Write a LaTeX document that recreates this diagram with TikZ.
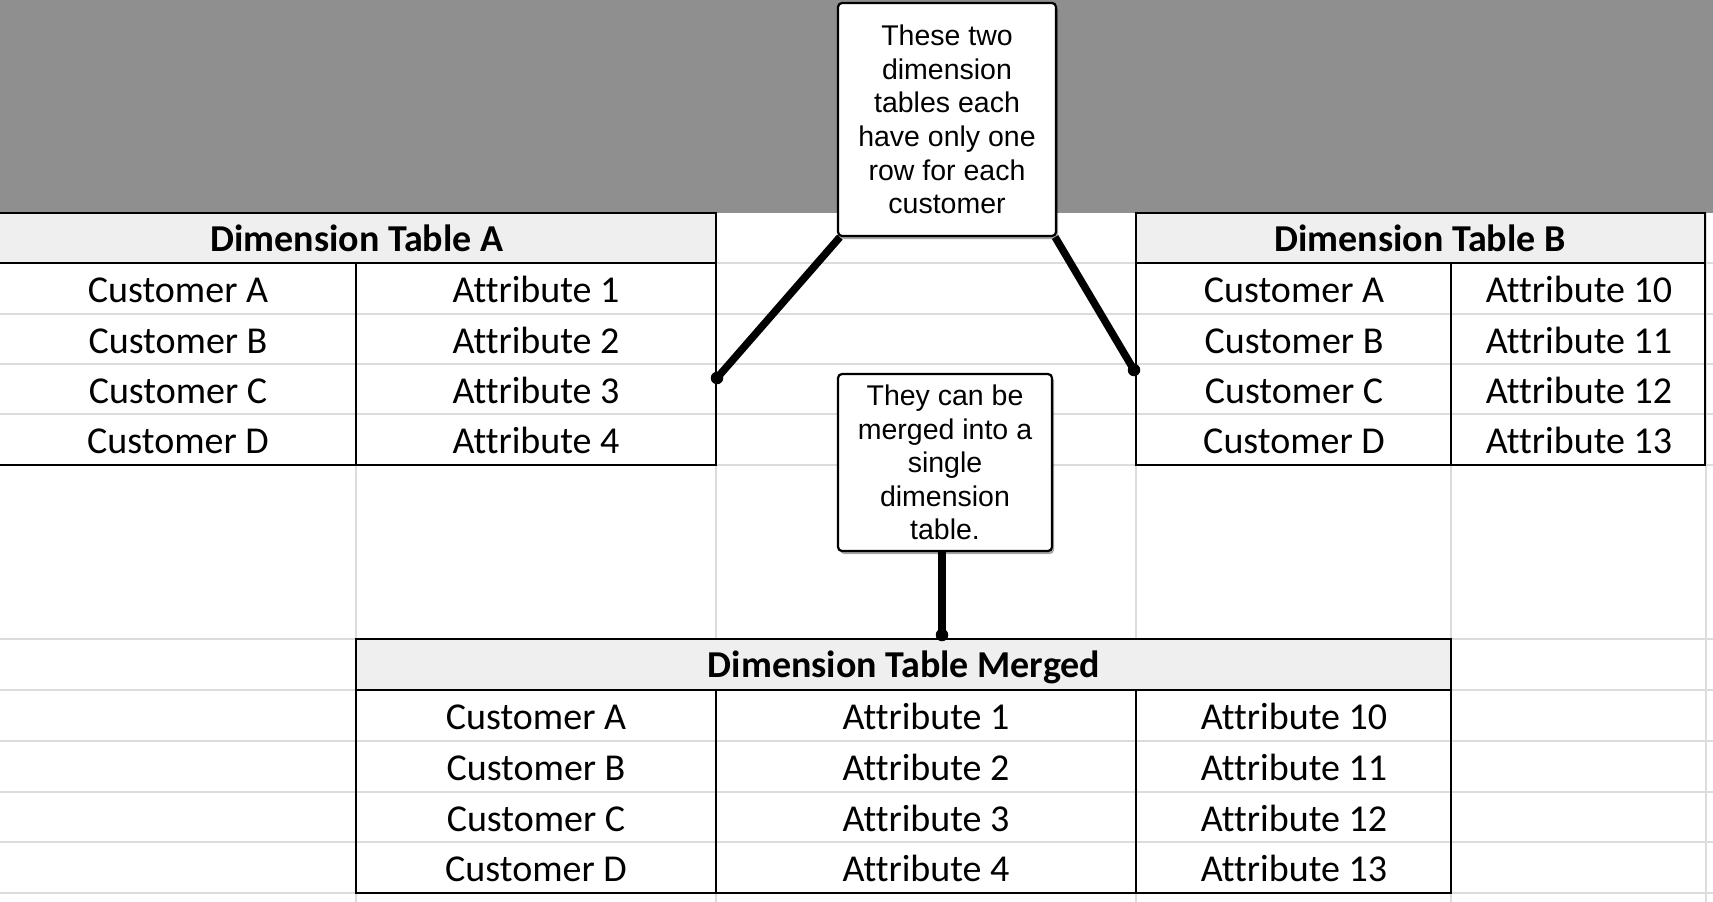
\documentclass[tikz,border=0pt]{standalone}
\usepackage{fontspec}
\usetikzlibrary{shadows}
\newfontfamily\calibfam[Ligatures=NoCommon]{Carlito}
\newfontfamily\arialfam{Liberation Sans}
\definecolor{band}{HTML}{8F8F8F}
\definecolor{hdr}{HTML}{EFEFEF}
\definecolor{gridc}{HTML}{DCDCDC}
\begin{document}
\begin{tikzpicture}[x=1pt,y=-1pt,
  cell/.style={font=\calibfam\fontsize{38}{44}\selectfont, text height=24.5pt, text depth=0pt, inner sep=0pt},
  head/.style={cell, font=\calibfam\bfseries\fontsize{38}{44}\selectfont},
  tborder/.style={line width=2.4pt, black},
  gridln/.style={line width=1.5pt, gridc},
  callout/.style={draw=black, line width=2.2pt, fill=white, rounded corners=4pt, align=center, inner sep=0pt,
    font=\arialfam\fontsize{28.5}{33.6}\selectfont,
    drop shadow={shadow xshift=2pt, shadow yshift=-3pt, opacity=0.35, fill=black}},
  conn/.style={line width=7.5pt, black},
  dotn/.style={circle, fill=black, minimum size=12.5pt, inner sep=0pt}]
\useasboundingbox (0,0) rectangle (1713,902);
\fill[white] (0,0) rectangle (1713,902);
\fill[band] (0,0) rectangle (1713,213);
% spreadsheet grid
\foreach \y in {263,314,364,414,465,639,690,741,792,842,893}
  \draw[gridln] (0,\y) -- (1713,\y);
\foreach \x in {356,716,1136,1451,1706}
  \draw[gridln] (\x,213) -- (\x,902);
% header fills
\fill[hdr] (-3,213) rectangle (716,263);
\fill[hdr] (1136,213) rectangle (1705,263);
\fill[hdr] (356,639) rectangle (1451,690);
% table A borders
\draw[tborder] (-3,213) rectangle (716,465);
\draw[tborder] (-3,263) -- (716,263);
\draw[tborder] (356,263) -- (356,465);
% table B borders
\draw[tborder] (1136,213) rectangle (1705,465);
\draw[tborder] (1136,263) -- (1705,263);
\draw[tborder] (1451,263) -- (1451,465);
% merged borders
\draw[tborder] (356,639) rectangle (1451,893);
\draw[tborder] (356,690) -- (1451,690);
\draw[tborder] (716,690) -- (716,893);
\draw[tborder] (1136,690) -- (1136,893);
% table A text
\node[head] (hA) at (357,239) {Dimension Table A};
\node[cell] (aC1) at (178,290.5) {Customer A};
\node[cell] (aC2) at (178,341) {Customer B};
\node[cell] (aC3) at (178,391) {Customer C};
\node[cell] (aC4) at (178,441.5) {Customer D};
\node[cell] (aA1) at (536,290.5) {Attribute 1};
\node[cell] (aA2) at (536,341) {Attribute 2};
\node[cell] (aA3) at (536,391) {Attribute 3};
\node[cell] (aA4) at (536,441.5) {Attribute 4};
% table B text
\node[head] (hB) at (1420,239) {Dimension Table B};
\node[cell] (bC1) at (1294,290.5) {Customer A};
\node[cell] (bC2) at (1294,341) {Customer B};
\node[cell] (bC3) at (1294,391) {Customer C};
\node[cell] (bC4) at (1294,441.5) {Customer D};
\node[cell] (bA1) at (1579,290.5) {Attribute 10};
\node[cell] (bA2) at (1579,341) {Attribute 11};
\node[cell] (bA3) at (1579,391) {Attribute 12};
\node[cell] (bA4) at (1579,441.5) {Attribute 13};
% merged text
\node[head] (hM) at (904,665.5) {Dimension Table Merged};
\node[cell] (mC1) at (536,717.5) {Customer A};
\node[cell] (mC2) at (536,768.5) {Customer B};
\node[cell] (mC3) at (536,819) {Customer C};
\node[cell] (mC4) at (536,869.5) {Customer D};
\node[cell] (mA1) at (926,717.5) {Attribute 1};
\node[cell] (mA2) at (926,768.5) {Attribute 2};
\node[cell] (mA3) at (926,819) {Attribute 3};
\node[cell] (mA4) at (926,869.5) {Attribute 4};
\node[cell] (mB1) at (1294,717.5) {Attribute 10};
\node[cell] (mB2) at (1294,768.5) {Attribute 11};
\node[cell] (mB3) at (1294,819) {Attribute 12};
\node[cell] (mB4) at (1294,869.5) {Attribute 13};
% callouts
\node[callout, minimum width=218pt, minimum height=233pt] (c1) at (947,119.5)
  {These two\\dimension\\tables each\\have only one\\row for each\\customer};
\node[callout, minimum width=214pt, minimum height=177pt] (c2) at (945,462.5)
  {They can be\\merged into a\\single\\dimension\\table.};
% dots
\node[dotn] (dA) at (717,378) {};
\node[dotn] (dB) at (1134,370) {};
\node[dotn] (dM) at (942,635) {};
% connectors
\draw[conn] ([xshift=3pt]c1.south west) -- (dA.center);
\draw[conn] ([xshift=-2pt]c1.south east) -- (dB.center);
\draw[conn] (c2.south -| dM) -- (dM.center);
\end{tikzpicture}
\end{document}
